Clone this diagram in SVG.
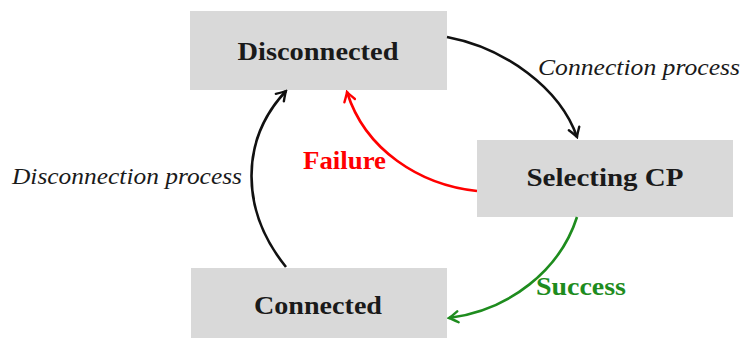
<svg xmlns="http://www.w3.org/2000/svg" width="742" height="338" viewBox="0 0 742 338">
  <style>
    .box { fill: #d9d9d9; }
    .state { font-family: "Liberation Serif", "Times New Roman", serif; font-weight: bold; font-size: 26px; fill: #1a1a1a; text-anchor: middle; }
    .proc { font-family: "Liberation Serif", "Times New Roman", serif; font-style: italic; font-size: 24px; fill: #1a1a1a; }
    .edge { fill: none; stroke-width: 2.6; }
  </style>
  <defs>
    <marker id="arrow-black" viewBox="-12 -7 14 14" markerWidth="14" markerHeight="14" refX="0" refY="0" orient="auto" markerUnits="userSpaceOnUse">
      <path d="M-9,-5.5 Q-2.5,-1.2 0,0 Q-2.5,1.2 -9,5.5" fill="none" stroke="#111" stroke-width="2.4" stroke-linecap="round"/>
    </marker>
    <marker id="arrow-red" viewBox="-12 -7 14 14" markerWidth="14" markerHeight="14" refX="0" refY="0" orient="auto" markerUnits="userSpaceOnUse">
      <path d="M-9,-5.5 Q-2.5,-1.2 0,0 Q-2.5,1.2 -9,5.5" fill="none" stroke="#ff0000" stroke-width="2.4" stroke-linecap="round"/>
    </marker>
    <marker id="arrow-green" viewBox="-12 -7 14 14" markerWidth="14" markerHeight="14" refX="0" refY="0" orient="auto" markerUnits="userSpaceOnUse">
      <path d="M-9,-5.5 Q-2.5,-1.2 0,0 Q-2.5,1.2 -9,5.5" fill="none" stroke="#1e8c1e" stroke-width="2.4" stroke-linecap="round"/>
    </marker>
  </defs>

  <rect width="742" height="338" fill="#ffffff"/>

  <g id="disconnected">
    <rect class="box" x="190" y="11" width="257" height="79"/>
    <text class="state" x="318" y="60" textLength="161" lengthAdjust="spacingAndGlyphs">Disconnected</text>
  </g>

  <g id="selecting-cp">
    <rect class="box" x="477" y="140" width="256" height="77"/>
    <text class="state" x="605" y="186" textLength="157" lengthAdjust="spacingAndGlyphs">Selecting CP</text>
  </g>

  <g id="connected">
    <rect class="box" x="191" y="268" width="256" height="70"/>
    <text class="state" x="318" y="314" textLength="128" lengthAdjust="spacingAndGlyphs">Connected</text>
  </g>

  <g id="connectors">
    <path class="edge" stroke="#111" d="M447,37 C505,48 560,88 577,137" marker-end="url(#arrow-black)"/>
    <path class="edge" stroke="#111" d="M286,267 C240,210 240,140 286,91" marker-end="url(#arrow-black)"/>
    <path class="edge" stroke="#ff0000" d="M477,191 C420,185 365,150 347,92" marker-end="url(#arrow-red)"/>
    <path class="edge" stroke="#1e8c1e" d="M577,217 C560,270 510,310 449,318" marker-end="url(#arrow-green)"/>
  </g>

  <g id="labels">
    <text class="proc" x="538" y="75" textLength="202" lengthAdjust="spacingAndGlyphs">Connection process</text>
    <text class="proc" x="12" y="184" textLength="230" lengthAdjust="spacingAndGlyphs">Disconnection process</text>
    <text x="303" y="169" textLength="83" lengthAdjust="spacingAndGlyphs" font-family="'Liberation Serif', 'Times New Roman', serif" font-weight="bold" font-size="25" fill="#ff0000">Failure</text>
    <text x="536" y="295" textLength="90" lengthAdjust="spacingAndGlyphs" font-family="'Liberation Serif', 'Times New Roman', serif" font-weight="bold" font-size="25" fill="#1e8c1e">Success</text>
  </g>
</svg>
